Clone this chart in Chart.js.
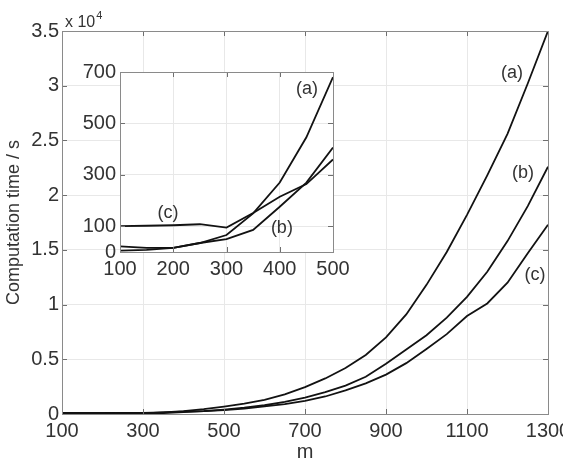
<!DOCTYPE html>
<html>
<head>
<meta charset="utf-8">
<script src="https://cdn.jsdelivr.net/npm/chart.js@4.4.1/dist/chart.umd.min.js"></script>
<style>
  html, body { margin: 0; padding: 0; background: #fff; }
  #wrap { position: relative; width: 563px; height: 466px; }
  #mainChart { position: absolute; left: 0; top: 0; }
  #insetChart { position: absolute; left: 80px; top: 60px; }
</style>
</head>
<body>
<div id="wrap">
  <canvas id="mainChart" width="563" height="466"></canvas>
  <canvas id="insetChart" width="270" height="225"></canvas>
</div>
<script>
// --- data (computation time in seconds) ---
const mMain = [100, 150, 200, 250, 300, 350, 400, 450, 500, 550, 600, 650, 700,
               750, 800, 850, 900, 950, 1000, 1050, 1100, 1150, 1200, 1250, 1300];
const timeA = [5, 8, 16, 35, 66, 150, 270, 446, 680, 950, 1300, 1800, 2450,
               3250, 4200, 5400, 7000, 9100, 11800, 14800, 18200, 21800, 25600, 30200, 35000];
const timeB = [22, 16, 16, 35, 50, 86, 176, 270, 406, 580, 800, 1100, 1500,
               2000, 2600, 3400, 4600, 5900, 7200, 8800, 10700, 13000, 15800, 19000, 22600];
const timeC = [101, 102, 104, 108, 95, 152, 215, 264, 360, 500, 700, 900, 1200,
               1600, 2150, 2800, 3600, 4650, 5950, 7300, 8950, 10100, 12000, 14700, 17300];

const mInset = [100, 150, 200, 250, 300, 350, 400, 450, 500];
const insetA = timeA.slice(0, 9);
const insetB = timeB.slice(0, 9);
const insetC = timeC.slice(0, 9);
const insetYTicks = [0, 100, 300, 500, 700];

// curve labels in data coordinates
const mainLabels = [
    { text: '(a)', m: 1211, t: 31200 },
    { text: '(b)', m: 1238, t: 22000 },
    { text: '(c)', m: 1268, t: 12700 }
];
const insetLabels = [
    { text: '(a)', m: 451, t: 633 },
    { text: '(b)', m: 404, t: 94 },
    { text: '(c)', m: 190, t: 152 }
];

const FONT = "'Liberation Sans', Arial, sans-serif";
const TXT = '#333';

function toXY(xs, ys) {
    return xs.map((x, i) => ({ x: x, y: ys[i] }));
}

function lineSet(data) {
    return {
        data: data,
        borderColor: '#121212',
        borderWidth: 1.8,
        pointRadius: 0,
        tension: 0,
        fill: false
    };
}

// box, inward tick marks and curve labels
const framePlugin = {
    id: 'frame',
    beforeDraw(chart, args, opts) {
        if (!opts.fillArea) return;
        const { ctx, chartArea: a } = chart;
        ctx.save();
        ctx.fillStyle = '#fff';
        ctx.fillRect(a.left, a.top, a.right - a.left, a.bottom - a.top);
        ctx.restore();
    },
    afterDraw(chart, args, opts) {
        const { ctx, chartArea: a, scales: { x, y } } = chart;
        ctx.save();
        ctx.strokeStyle = '#6f6f6f';
        ctx.lineWidth = 1;
        ctx.beginPath();
        x.ticks.forEach(t => {
            const px = Math.round(x.getPixelForValue(t.value)) + 0.5;
            ctx.moveTo(px, a.bottom); ctx.lineTo(px, a.bottom - 5);
            ctx.moveTo(px, a.top); ctx.lineTo(px, a.top + 5);
        });
        y.ticks.forEach(t => {
            const py = Math.round(y.getPixelForValue(t.value)) + 0.5;
            ctx.moveTo(a.left, py); ctx.lineTo(a.left + 5, py);
            ctx.moveTo(a.right, py); ctx.lineTo(a.right - 5, py);
        });
        ctx.stroke();
        ctx.strokeStyle = '#8a8a8a';
        ctx.strokeRect(Math.round(a.left) + 0.5, Math.round(a.top) + 0.5,
            Math.round(a.right - a.left), Math.round(a.bottom - a.top));

        ctx.fillStyle = TXT;
        ctx.font = '18px ' + FONT;
        ctx.textAlign = 'center';
        ctx.textBaseline = 'middle';
        (opts.labels || []).forEach(l => {
            ctx.fillText(l.text, x.getPixelForValue(l.m), y.getPixelForValue(l.t));
        });

        if (opts.exponent) {
            ctx.textAlign = 'left';
            ctx.textBaseline = 'alphabetic';
            ctx.font = '16px ' + FONT;
            ctx.fillText('x 10', a.left + 3, a.top - 4);
            const w = ctx.measureText('x 10').width;
            ctx.font = '11px ' + FONT;
            ctx.fillText('4', a.left + 3 + w + 1, a.top - 12);
        }
        ctx.restore();
    }
};

function fixWidth(w) {
    return function (scale) { scale.width = w; scale.paddingTop = 0; scale.paddingBottom = 0; };
}
function fixHeight(h) {
    return function (scale) { scale.height = h; scale.paddingLeft = 0; scale.paddingRight = 0; };
}

// --- main chart ---
new Chart(document.getElementById('mainChart'), {
    type: 'line',
    data: {
        datasets: [
            lineSet(toXY(mMain, timeA)),
            lineSet(toXY(mMain, timeB)),
            lineSet(toXY(mMain, timeC))
        ]
    },
    options: {
        responsive: false,
        animation: false,
        layout: { padding: { top: 31, right: 15, left: 0, bottom: 0 } },
        plugins: {
            legend: { display: false },
            tooltip: { enabled: false },
            frame: { labels: mainLabels, exponent: true }
        },
        scales: {
            x: {
                type: 'linear',
                min: 100,
                max: 1300,
                afterFit: fixHeight(52),
                ticks: {
                    stepSize: 200, color: TXT, padding: 5, font: { family: FONT, size: 20 }, maxRotation: 0,
                    callback: v => String(v)
                },
                grid: { color: '#e8e8e8', drawTicks: false },
                border: { display: false },
                title: { display: true, text: 'm', color: TXT, font: { family: FONT, size: 20 }, padding: { top: 0, bottom: 2 } }
            },
            y: {
                min: 0,
                max: 35000,
                afterFit: fixWidth(62),
                ticks: {
                    stepSize: 5000, color: TXT, padding: 3, font: { family: FONT, size: 20 },
                    callback: v => String(v / 1e4)
                },
                grid: { color: '#e8e8e8', drawTicks: false },
                border: { display: false },
                title: { display: true, text: 'Computation time / s', color: TXT, font: { family: FONT, size: 18 }, padding: { top: 3, bottom: 0 } }
            }
        }
    },
    plugins: [framePlugin]
});

// --- inset chart ---
new Chart(document.getElementById('insetChart'), {
    type: 'line',
    data: {
        datasets: [
            lineSet(toXY(mInset, insetA)),
            lineSet(toXY(mInset, insetB)),
            lineSet(toXY(mInset, insetC))
        ]
    },
    options: {
        responsive: false,
        animation: false,
        layout: { padding: { top: 12, right: 17, left: 0, bottom: 0 } },
        plugins: {
            legend: { display: false },
            tooltip: { enabled: false },
            frame: { labels: insetLabels, fillArea: true }
        },
        scales: {
            x: {
                type: 'linear',
                min: 100,
                max: 500,
                afterFit: fixHeight(33),
                ticks: {
                    stepSize: 100, color: TXT, padding: 5, font: { family: FONT, size: 20 }, maxRotation: 0,
                    callback: v => String(v)
                },
                grid: { color: '#e8e8e8', drawTicks: false },
                border: { display: false }
            },
            y: {
                min: 0,
                max: 700,
                afterFit: fixWidth(40),
                afterBuildTicks: scale => { scale.ticks = insetYTicks.map(v => ({ value: v })); },
                ticks: { color: TXT, padding: 4, font: { family: FONT, size: 20 } },
                grid: { color: '#e8e8e8', drawTicks: false },
                border: { display: false }
            }
        }
    },
    plugins: [framePlugin]
});
</script>
</body>
</html>
